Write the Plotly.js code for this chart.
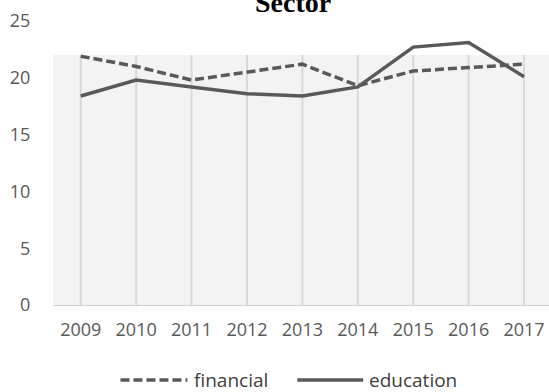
<!DOCTYPE html>
<html>
<head>
<meta charset="utf-8">
<script src="https://cdn.plot.ly/plotly-3.0.1.min.js"></script>
<style>html,body{margin:0;padding:0;background:#fff;}#chart{width:549px;height:392px;}</style>
</head>
<body>
<div id="chart"></div>
<script>
const years = ['2009','2010','2011','2012','2013','2014','2015','2016','2017'];
const financial = [21.9, 21.0, 19.8, 20.5, 21.2, 19.3, 20.6, 20.9, 21.2];
const education = [18.4, 19.8, 19.2, 18.6, 18.4, 19.2, 22.7, 23.1, 20.1];
const yTicks = [0, 5, 10, 15, 20, 25];
const seriesNames = ['financial', 'education'];
const chartTitle = 'Sector';
const gridTop = 22;

const lineColor = '#595959';
const tickFont = {family: 'Open Sans, sans-serif', size: 18, color: '#595959'};

const traces = [
  {x: years, y: financial, name: seriesNames[0], type: 'scatter', mode: 'lines',
   line: {color: lineColor, width: 3.5, dash: '9px,4px'}, showlegend: false},
  {x: years, y: education, name: seriesNames[1], type: 'scatter', mode: 'lines',
   line: {color: lineColor, width: 3.5}, showlegend: false}
];

const shapes = [
  {type: 'rect', xref: 'paper', yref: 'y', x0: 0, x1: 1, y0: 0, y1: gridTop,
   fillcolor: '#f3f3f3', line: {width: 0}, layer: 'below'}
];
// vertical category gridlines (category index positions)
years.forEach((yr, i) => shapes.push({
  type: 'line', xref: 'x', yref: 'y', x0: i, x1: i, y0: 0, y1: gridTop,
  line: {color: '#d9d9d9', width: 2}, layer: 'below'
}));
// custom legend samples
shapes.push({type: 'line', xref: 'paper', yref: 'paper', x0: 0.136, x1: 0.271, y0: -0.264, y1: -0.264,
  line: {color: lineColor, width: 3.5, dash: '9px,4px'}});
shapes.push({type: 'line', xref: 'paper', yref: 'paper', x0: 0.4925, x1: 0.6254, y0: -0.264, y1: -0.264,
  line: {color: lineColor, width: 3.5}});

const annotations = [
  {text: '<b>' + chartTitle + '</b>', xref: 'paper', yref: 'paper', x: 0.4844, y: 1,
   xanchor: 'center', yanchor: 'bottom', yshift: 1, showarrow: false,
   font: {family: 'Liberation Serif, Times New Roman, serif', size: 28, color: '#000'}},
  {text: seriesNames[0], xref: 'paper', yref: 'paper', x: 0.281, y: -0.264, xanchor: 'left', yanchor: 'middle',
   showarrow: false, font: {family: 'Open Sans, sans-serif', size: 19, color: '#404040'}},
  {text: seriesNames[1], xref: 'paper', yref: 'paper', x: 0.6334, y: -0.264, xanchor: 'left', yanchor: 'middle',
   showarrow: false, font: {family: 'Open Sans, sans-serif', size: 19, color: '#404040'}}
];

const layout = {
  width: 549, height: 392,
  margin: {l: 52.5, r: 0, t: 20.5, b: 86.5, pad: 0},
  paper_bgcolor: '#fff', plot_bgcolor: '#fff',
  showlegend: false,
  xaxis: {type: 'category', range: [-0.5, 8.45], showgrid: false, zeroline: false,
    showline: true, linecolor: '#d0d0d0', linewidth: 1,
    ticks: 'outside', ticklen: 8, tickcolor: 'rgba(0,0,0,0)', tickfont: tickFont, fixedrange: true},
  yaxis: {range: [0, 25], tickvals: yTicks, showgrid: false, zeroline: false, showline: false,
    ticks: 'outside', ticklen: 18, tickcolor: 'rgba(0,0,0,0)', tickfont: tickFont, fixedrange: true},
  shapes: shapes,
  annotations: annotations
};

Plotly.newPlot('chart', traces, layout, {displayModeBar: false, staticPlot: true});
</script>
</body>
</html>
